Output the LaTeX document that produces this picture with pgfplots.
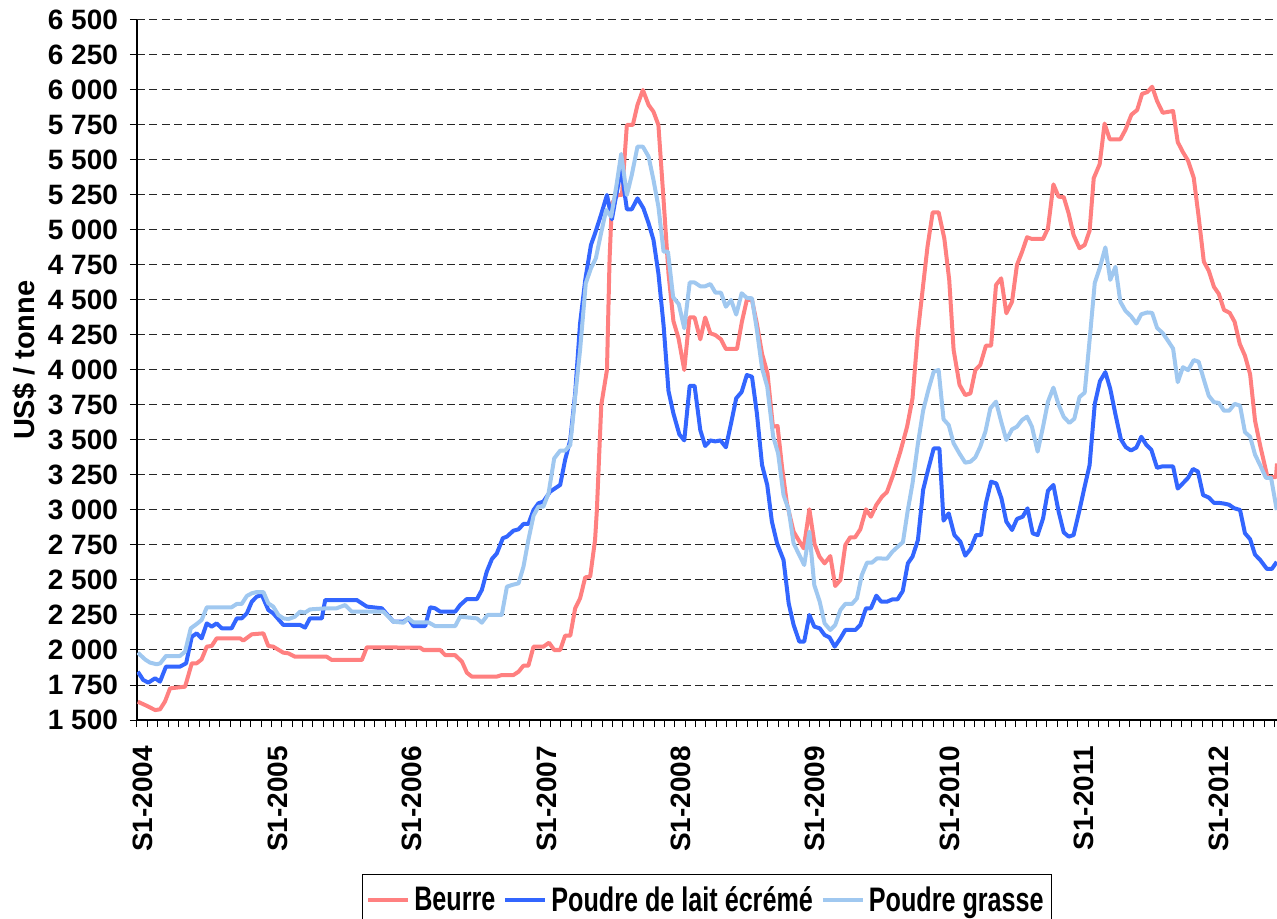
\documentclass[border=0pt]{standalone}
\usepackage{pgfplots}
\pgfplotsset{compat=1.18}
\usepackage{fontspec}
\setmainfont{Liberation Sans}
\usepackage{graphicx}
\definecolor{beurre}{RGB}{255,128,128}
\definecolor{smp}{RGB}{51,102,255}
\definecolor{wmp}{RGB}{160,200,240}
\newcommand{\lgtext}[1]{\scalebox{0.74}[1]{#1}}
\begin{document}
\begin{tikzpicture}
\useasboundingbox (-68.5pt,-99.5pt) rectangle (570pt,360pt);
\begin{axis}[
  scale only axis, width=570pt, height=350pt,
  xmin=0, xmax=441, ymin=1500, ymax=6500,
  axis x line*=bottom, axis y line*=left,
  axis line style={line width=1pt, black},
  xtick={2.4,54.4,106.4,158.4,210.4,262.4,314.4,366.4,418.4},
  xticklabels={S1-2004,S1-2005,S1-2006,S1-2007,S1-2008,S1-2009,S1-2010,S1-2011,S1-2012},
  minor xtick={0,4,...,440},
  ytick={1500,1750,...,6500},
  yticklabels={1 500,1 750,2 000,2 250,2 500,2 750,3 000,3 250,3 500,3 750,4 000,4 250,4 500,4 750,5 000,5 250,5 500,5 750,6 000,6 250,6 500},
  minor ytick={1500,1750,...,6500},
  major tick length=0pt, minor tick length=3.5pt, tick align=outside,
  minor tick style={black, line width=0.5pt},
  ymajorgrids,
  grid style={black!85, line width=0.5pt, dash pattern=on 4pt off 2.2pt},
  every tick label/.append style={font=\fontsize{14}{16}\selectfont\bfseries},
  xticklabel style={rotate=90, anchor=east},
  xticklabel shift=9.5pt,
  yticklabel shift=6pt,
  ylabel={US\$ / tonne},
  every axis y label/.style={at={(axis description cs:0,0.514)}, xshift=-56pt, rotate=90, anchor=center, font=\fontsize{14.5}{17}\selectfont\bfseries},
  legend style={at={(0.5,0)}, anchor=north, yshift=-77pt, draw=black, line width=0.5pt,
    legend columns=3, font=\fontsize{17}{20}\selectfont\bfseries, inner xsep=2pt, inner ysep=4pt,
    /tikz/every even column/.append style={column sep=2pt}},
  legend image code/.code={\draw[#1, line width=2pt] (0pt,0pt) -- (20pt,0pt);},
  every axis plot/.append style={line width=2pt, line join=round},
]
\addplot[beurre] coordinates {
(0.3,1631) (3.7,1602) (7,1571) (8.9,1576) (10.8,1631) (12.8,1726) (18.6,1738) (21.2,1905) (23.1,1905) (25,1933) (27,2024) (28.9,2029) (30.8,2083) (39.9,2083) (41.1,2067) (44.4,2112) (48.9,2119) (50.8,2029) (52.7,2024) (56.6,1981) (58.6,1976) (61.1,1952) (73.4,1952) (75.3,1929) (87,1929) (88.9,2019) (109.5,2017) (110.8,2000) (117.3,2000) (119.2,1964) (123,1964) (125.7,1917) (127.6,1838) (129.5,1810) (139.2,1810) (141.1,1821) (145.6,1821) (147.6,1845) (149.5,1888) (151.4,1888) (153.4,2024) (157.2,2024) (159.4,2052) (161.4,2000) (163.7,2000) (165.6,2102) (167.6,2102) (169.5,2298) (171.4,2369) (173.4,2519) (175.3,2524) (177.2,2786) (177.9,3000) (179.6,3750) (181.8,4000) (182.8,4786) (183.7,5190) (185.9,5250) (187.6,5250) (189.5,5750) (191.8,5750) (193.6,5893) (195.7,6000) (197.9,5893) (199.8,5845) (201.7,5750) (203.7,5214) (205.6,4690) (207.5,4350) (209.5,4225) (211.7,4000) (213.7,4375) (215.7,4375) (217.9,4219) (219.8,4375) (221.8,4262) (223.7,4250) (225.9,4219) (227.8,4150) (232.1,4150) (234,4345) (235.9,4500) (237.9,4500) (239.8,4330) (241.8,4115) (243.9,3976) (246,3595) (247.8,3600) (249.5,3310) (251.4,3048) (254,2845) (255.9,2786) (257.9,2726) (260.1,3005) (262.1,2757) (264,2667) (266,2619) (268.2,2671) (270.1,2457) (272.1,2500) (274,2750) (275.9,2805) (277.8,2805) (279.8,2862) (282,3005) (283.9,2952) (286,3036) (288.2,3095) (290.1,3128) (292.5,3250) (295.3,3417) (297.9,3595) (300,3798) (302.1,4274) (303.9,4571) (305.8,4881) (307.8,5126) (310.1,5126) (312.3,4940) (314.2,4643) (315.9,4143) (318.2,3893) (320.4,3821) (322.4,3833) (324.3,4000) (326.2,4036) (328.4,4174) (330.4,4174) (332.3,4607) (334.3,4655) (336.3,4405) (338.5,4488) (340.4,4750) (342.4,4845) (344.3,4948) (346.2,4936) (350.5,4936) (352.4,5012) (354.5,5326) (356.5,5238) (358.5,5235) (360.4,5118) (362.3,4964) (364.6,4870) (366.6,4893) (368.5,4995) (370.1,5370) (372.4,5470) (374.3,5760) (376.3,5648) (380.4,5648) (382.4,5717) (384.7,5824) (386.9,5857) (388.8,5972) (390.8,5985) (392.7,6023) (394.6,5921) (396.8,5837) (400.8,5850) (402.6,5628) (404.6,5556) (406.6,5495) (408.8,5372) (410.7,5092) (412.7,4773) (414.6,4709) (416.6,4594) (418.5,4543) (420.5,4429) (422.7,4408) (424.6,4344) (426.6,4186) (428.6,4102) (430.6,3969) (432.5,3638) (434.5,3459) (437.3,3235) (440.6,3235) (441,3332)
};
\addlegendentry{\lgtext{Beurre}}
\addplot[smp] coordinates {
(0.3,1845) (2.4,1786) (4.4,1767) (7,1798) (8.9,1774) (11.2,1881) (16.6,1881) (19,1905) (21.2,2095) (23.1,2119) (25,2083) (27,2190) (28.9,2167) (30.8,2190) (32.8,2155) (36.6,2155) (38.6,2226) (40.5,2226) (42.5,2262) (44.4,2345) (46.3,2381) (48.3,2393) (50.8,2286) (52.7,2262) (56.6,2179) (63.1,2179) (65,2160) (66.9,2226) (71.5,2226) (72.8,2357) (85,2357) (88.9,2310) (94.7,2298) (99.2,2202) (103.1,2202) (105,2226) (106.9,2171) (111.5,2171) (113.4,2305) (115.3,2298) (117.3,2274) (123.1,2274) (125,2321) (127.6,2364) (131.5,2364) (133.4,2429) (135.3,2560) (137.3,2650) (139.2,2690) (141.5,2798) (143.1,2810) (145.6,2852) (147.6,2862) (149.5,2900) (151.4,2900) (153.4,3000) (155.3,3048) (157.2,3060) (159.8,3131) (163.7,3179) (165.6,3357) (167.6,3500) (169.5,3833) (171.4,4333) (173.4,4643) (175.6,4893) (177.2,4976) (179.6,5114) (181.8,5250) (183.7,5076) (185.4,5250) (187.3,5440) (189.5,5148) (191.4,5148) (193.6,5226) (195.9,5155) (197.9,5048) (199.8,4929) (201.7,4690) (203.7,4320) (205.6,3850) (207.5,3690) (209.8,3540) (211.7,3497) (213.8,3887) (215.7,3887) (217.9,3571) (219.8,3457) (221.8,3497) (223.7,3490) (225.7,3497) (227.8,3448) (229.8,3619) (231.8,3798) (233.9,3843) (235.9,3964) (237.9,3952) (239.8,3690) (241.8,3321) (243.8,3179) (245.6,2917) (247.6,2762) (250.1,2643) (252.1,2333) (254,2179) (256.2,2060) (258.1,2060) (260.1,2250) (262,2167) (264.1,2155) (266,2107) (267.9,2090) (269.9,2024) (272.1,2083) (274,2143) (277.9,2143) (279.8,2179) (282,2298) (283.9,2298) (286,2388) (287.9,2345) (290.1,2345) (292.3,2362) (294.2,2362) (296.2,2420) (298.2,2619) (300,2667) (302.1,2786) (304.1,3143) (306,3286) (308.2,3440) (310.4,3440) (312,2924) (314,2976) (316.2,2821) (318.5,2774) (320.4,2674) (322.4,2721) (324.6,2821) (326.5,2821) (328.4,3048) (330.4,3202) (332.4,3190) (334.4,3083) (336.3,2917) (338.5,2857) (340.4,2936) (342.6,2952) (344.5,3012) (346.5,2833) (348.4,2821) (350.5,2940) (352.4,3138) (354.5,3179) (356.5,2990) (358.5,2840) (360.4,2810) (362.3,2821) (364.6,3000) (366.6,3168) (368.5,3320) (370.5,3757) (372.5,3920) (374.6,3985) (376.5,3865) (378.5,3683) (380.6,3505) (382.5,3449) (384.5,3425) (386.6,3446) (388.5,3523) (390.5,3464) (392.4,3429) (394.6,3301) (396.5,3311) (400.8,3311) (402.6,3153) (404.6,3191) (406.6,3230) (408.5,3293) (410.4,3275) (412.4,3107) (414.6,3089) (416.6,3051) (418.5,3051) (420.5,3046) (422.4,3038) (424.4,3013) (426.7,3000) (428.6,2834) (430.6,2791) (432.5,2681) (434.5,2643) (437.1,2579) (439,2579) (440.9,2630)
};
\addlegendentry{\lgtext{Poudre de lait écrémé}}
\addplot[wmp] coordinates {
(0.3,1981) (3.1,1933) (5,1910) (7.6,1898) (9,1905) (11.2,1957) (16.6,1957) (18.6,1988) (20.8,2155) (23.1,2186) (25,2214) (27,2305) (36.6,2305) (38.6,2329) (40.5,2329) (42.5,2386) (44.4,2405) (46.3,2414) (48.9,2414) (50.8,2333) (52.7,2310) (54.7,2250) (56.6,2226) (58.6,2221) (61.1,2238) (63.1,2274) (65,2267) (66.9,2290) (73.4,2298) (77.2,2298) (80.5,2321) (83.1,2274) (95.3,2274) (99.2,2202) (103.1,2195) (105,2226) (106.9,2198) (112.7,2198) (115.3,2171) (123.1,2171) (125,2238) (127.6,2233) (131.5,2226) (133.4,2195) (135.6,2250) (141.1,2250) (143.1,2452) (145,2464) (147.6,2476) (149.5,2595) (151.4,2786) (153.4,2960) (155.3,3024) (157.2,3024) (159.2,3119) (161.4,3369) (163.7,3424) (165.6,3424) (167.6,3464) (169.5,3810) (171.4,4143) (173.6,4619) (175.6,4726) (177.5,4798) (179.5,4976) (181.5,5143) (183.4,5095) (185.4,5310) (187.3,5543) (189.5,5250) (191.4,5393) (193.6,5595) (195.7,5595) (197.9,5524) (199.8,5357) (201.7,5167) (203.7,4845) (205.4,4845) (207.4,4520) (209.6,4470) (211.7,4298) (213.8,4625) (215.7,4625) (217.9,4598) (219.8,4598) (221.8,4614) (223.8,4552) (225.9,4552) (227.8,4452) (229.8,4500) (231.8,4396) (233.9,4548) (235.9,4515) (237.9,4512) (239.8,4286) (241.8,4012) (243.8,3881) (246.1,3524) (248,3405) (250.1,3107) (252.1,3000) (254,2762) (255.9,2690) (258.1,2607) (260.1,2845) (262,2464) (264.1,2345) (266,2190) (268.2,2143) (270.1,2179) (272.1,2286) (274,2329) (276.6,2329) (278.5,2369) (280.4,2536) (282.4,2624) (284.3,2624) (286.3,2655) (290.1,2652) (292.2,2702) (294.3,2738) (296.3,2771) (298.1,2990) (300,3190) (302.1,3476) (304.1,3710) (306.3,3869) (308.2,3988) (310.1,4000) (312,3648) (314,3607) (315.9,3476) (318.1,3405) (320.4,3338) (322.4,3345) (324.3,3376) (326.2,3452) (328.2,3560) (330.1,3726) (332.3,3774) (334.3,3631) (336.3,3500) (338.5,3576) (340.4,3595) (342.4,3643) (344.3,3667) (346.2,3595) (348.4,3417) (350.5,3595) (352.4,3774) (354.5,3874) (356.5,3752) (358.5,3665) (360.7,3622) (362.6,3652) (364.6,3807) (366.6,3838) (368.5,4213) (370.5,4622) (372.5,4733) (374.6,4876) (376.5,4644) (378.5,4737) (380.4,4487) (382.4,4422) (384.5,4385) (386.6,4332) (388.5,4398) (390.8,4411) (392.7,4408) (394.6,4301) (396.8,4263) (398.7,4212) (400.8,4153) (402.6,3913) (404.6,4020) (406.6,3999) (408.8,4071) (410.7,4059) (412.7,3931) (414.6,3816) (416.6,3770) (418.5,3765) (420.5,3709) (422.5,3709) (424.6,3758) (426.7,3745) (428.6,3556) (430.6,3523) (432.5,3395) (434.5,3319) (436.7,3230) (438.7,3230) (440.9,3000)
};
\addlegendentry{\lgtext{Poudre grasse}}
\end{axis}
\end{tikzpicture}
\end{document}
